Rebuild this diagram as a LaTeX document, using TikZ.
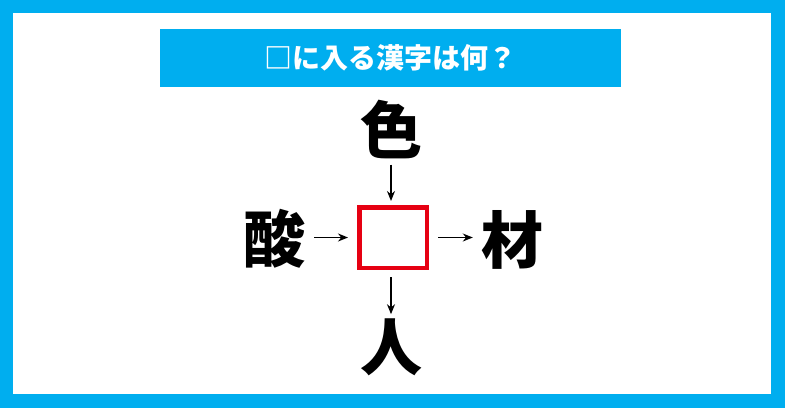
\documentclass[tikz,border=0pt]{standalone}
\usepackage{fontspec}
\usepackage{tikz}
\usetikzlibrary{arrows.meta}
\newfontfamily\jpfont{Noto Sans CJK JP}
\definecolor{qblue}{HTML}{00AEEF}
\definecolor{qred}{HTML}{E60012}
\tikzset{
	kanji/.style={inner sep=0pt, font=\jpfont\bfseries\fontsize{62}{62}\selectfont},
	arr/.style={line width=1.4pt, -{Stealth[length=10pt,width=8pt]}},
}

\begin{document}
\begin{tikzpicture}[x=1pt, y=-1pt]
			%%%%% START %%%%%
			\useasboundingbox (0, 0) rectangle (785, 408);
			
			\fill[qblue] (0, 0) rectangle (785, 408);
			\fill[white] (13, 13) rectangle (771, 394);
			
			\fill[qblue] (160, 29) rectangle (621, 87);
			\node[text=white, font=\jpfont\bfseries\fontsize{28}{28}\selectfont] (title) at (390.5, 58) {□に入る漢字は何？};
			
			\node[draw=qred, line width=4.5pt, minimum width=67.5pt, minimum height=60.5pt, inner sep=0pt] (q) at (393, 237.5) {};
			
			\node[kanji] (top) at (391, 130) {色};
			\node[kanji] (left) at (274, 239) {酸};
			\node[kanji] (right) at (512.5, 240) {材};
			\node[kanji] (bottom) at (391, 347) {人};
			
			\draw[arr, shorten <=5pt, shorten >=4pt] (top.south) -- (top.south |- q.north);
			\draw[arr, shorten <=9pt, shorten >=9pt] (left.east |- q.west) -- (q.west);
			\draw[arr, shorten <=9pt, shorten >=8.5pt] (q.east) -- (q.east -| right.west);
			\draw[arr, shorten <=7pt, shorten >=4pt] (bottom.north |- q.south) -- (bottom.north);
			
			%%%%% END %%%%%
		\end{tikzpicture}
\end{document}
